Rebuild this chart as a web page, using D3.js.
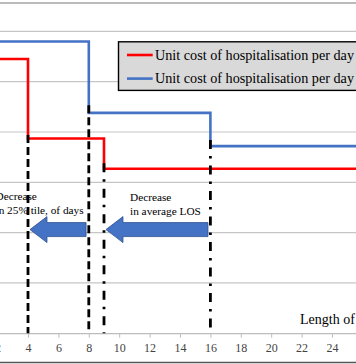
<!DOCTYPE html>
<html>
<head>
<meta charset="utf-8">
<script src="https://cdn.jsdelivr.net/npm/d3@7"></script>
<style>
  html, body { margin: 0; padding: 0; background: #fff; overflow: hidden; }
  svg { display: block; }
</style>
</head>
<body>
<svg id="chart" width="356" height="364"></svg>
<script>
// ---- data ----
const xTicks = [2, 4, 6, 8, 10, 12, 14, 16, 18, 20, 22, 24];
const yGrid = [1, 2, 3, 4, 5, 6];
const redBreaks = [0, 4, 9, 26];
const redValues = [5.45, 3.87, 3.27];
const blueBreaks = [0, 8, 16, 26];
const blueValues = [5.8, 4.38, 3.72];
const vlineX = [4, 8, 9, 16];
const vlineTop = [3.94, 4.53, 3.38, 3.84];
const vlineStyle = ["dash", "dash", "dashdot", "dashdot"];
const arrowFrom = [7.82, 15.84];
const arrowTo = [4.13, 9.13];
const arrowY = [2.06, 2.06];
const legendLabels = [
  "Unit cost of hospitalisation per day in hospital A",
  "Unit cost of hospitalisation per day in hospital B"
];
const legendColors = ["#ff0000", "#4472c4"];
const noteLeft = ["Decrease", "in 25% tile, of days"];
const noteRight = ["Decrease", "in average LOS"];
const xTitle = "Length of stay (days)";

// ---- scales ----
const svg = d3.select("#chart");
const x = d3.scaleLinear().domain([0, 26]).range([-32.8, -32.8 + 26 * 15.2]);
const y = d3.scaleLinear().domain([0, 6]).range([333.2, 31.4]);
const serif = "'Liberation Serif', 'Times New Roman', serif";

// borders
svg.append("line").attr("x1", 0).attr("x2", 356).attr("y1", 3).attr("y2", 3)
  .attr("stroke", "#777").attr("stroke-width", 1.2);
svg.append("line").attr("x1", 0).attr("x2", 356).attr("y1", 362.5).attr("y2", 362.5)
  .attr("stroke", "#555").attr("stroke-width", 1.5);

// gridlines
svg.append("g").selectAll("line").data(yGrid).join("line")
  .attr("x1", 0).attr("x2", 356)
  .attr("y1", d => y(d)).attr("y2", d => y(d))
  .attr("stroke", "#c6c6c6").attr("stroke-width", 1.2);

// x axis
const xAxis = svg.append("g").attr("transform", `translate(0,${y(0)})`)
  .call(d3.axisBottom(x).tickValues(xTicks).tickSize(4.5).tickPadding(6).tickFormat(d3.format("d")));
xAxis.select(".domain").attr("stroke", "#bdbdbd").attr("stroke-width", 1.2);
xAxis.selectAll(".tick line").attr("stroke", "#bdbdbd");
xAxis.selectAll(".tick text").attr("fill", "#444").attr("font-family", serif).attr("font-size", 12);

// step lines
function stepPoints(breaks, values) {
  const pts = values.map((v, i) => [breaks[i], v]);
  pts.push([breaks[breaks.length - 1], values[values.length - 1]]);
  return pts;
}
const line = d3.line().x(d => x(d[0])).y(d => y(d[1])).curve(d3.curveStepAfter);
svg.append("path").attr("d", line(stepPoints(blueBreaks, blueValues)))
  .attr("fill", "none").attr("stroke", legendColors[1]).attr("stroke-width", 2.6);
svg.append("path").attr("d", line(stepPoints(redBreaks, redValues)))
  .attr("fill", "none").attr("stroke", legendColors[0]).attr("stroke-width", 2.6);

// vertical reference lines
svg.append("g").selectAll("line").data(vlineX).join("line")
  .attr("x1", d => x(d)).attr("x2", d => x(d))
  .attr("y1", (d, i) => y(vlineTop[i])).attr("y2", y(0))
  .attr("stroke", "#000").attr("stroke-width", 2.8)
  .attr("stroke-dasharray", (d, i) => vlineStyle[i] === "dash" ? "8,4" : "9,7,2.5,7");

// arrows
const bodyHalf = 7, headHalf = 13, headLen = 17;
arrowFrom.forEach((f, i) => {
  const xt = x(arrowTo[i]), xf = x(f), yc = y(arrowY[i]);
  const xb = xt + headLen;
  const pts = [[xt, yc], [xb, yc - headHalf], [xb, yc - bodyHalf], [xf, yc - bodyHalf],
               [xf, yc + bodyHalf], [xb, yc + bodyHalf], [xb, yc + headHalf]];
  svg.append("path").attr("d", d3.line()(pts) + "Z")
    .attr("fill", "#4472c4").attr("stroke", "#2f528f").attr("stroke-width", 0.8);
});

// notes
function note(lines, xPos, y0) {
  const t = svg.append("text").attr("font-family", serif).attr("font-size", 11.3).attr("fill", "#000");
  lines.forEach((l, i) => t.append("tspan").attr("x", xPos).attr("y", y0 + i * 14.2).text(l));
}
note(noteLeft, -4.5, 199.8);
note(noteRight, 130, 200.5);

// x title
svg.append("text").attr("x", 300).attr("y", 324).attr("font-family", serif)
  .attr("font-size", 14).attr("fill", "#000").text(xTitle);

// legend
const lg = svg.append("g");
lg.append("rect").attr("x", 118.5).attr("y", 41.8).attr("width", 300).attr("height", 48.6)
  .attr("fill", "#d9d9d9").attr("stroke", "#000").attr("stroke-width", 1.4);
const rowY = [55, 78.6];
legendLabels.forEach((lab, i) => {
  lg.append("line").attr("x1", 127).attr("x2", 152.7).attr("y1", rowY[i]).attr("y2", rowY[i])
    .attr("stroke", legendColors[i]).attr("stroke-width", 2.6);
  lg.append("text").attr("x", 155).attr("y", rowY[i] + 4.6).attr("font-family", serif)
    .attr("font-size", 14.2).attr("fill", "#000").text(lab);
});
</script>
</body>
</html>
